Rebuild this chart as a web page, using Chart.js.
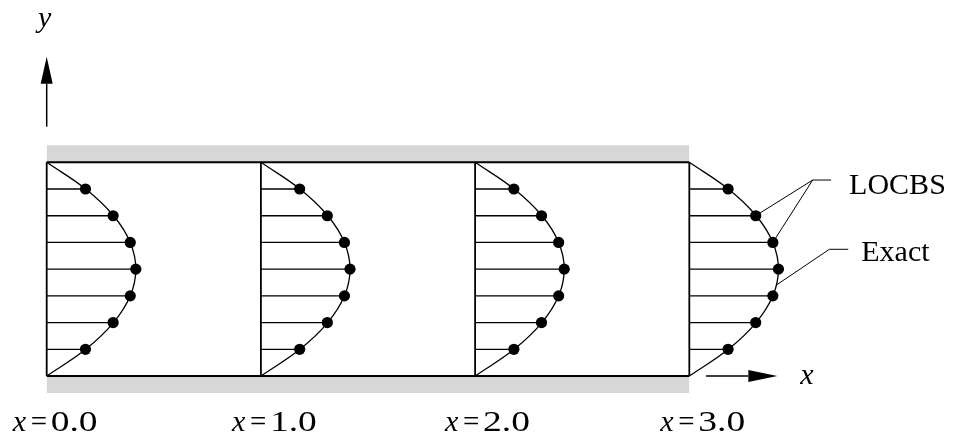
<!DOCTYPE html>
<html>
<head>
<meta charset="utf-8">
<script src="https://cdn.jsdelivr.net/npm/chart.js@4.4.1/dist/chart.umd.min.js"></script>
<style>
  html, body { margin: 0; padding: 0; background: #ffffff; overflow: hidden; }
  canvas { display: block; }
</style>
</head>
<body>
<canvas id="chart" width="956" height="437"></canvas>
<script>
// Profile stations along the channel and their captions
const stations = [0, 1, 2, 3];
const stationLabels = ['0.0', '1.0', '2.0', '3.0'];

// Wall-normal positions of the LOCBS nodes and the computed velocities there
const nodeY = [0.125, 0.25, 0.375, 0.5, 0.625, 0.75, 0.875];
const locbsU = [0.181, 0.310, 0.390, 0.416, 0.390, 0.310, 0.181];

// Exact (parabolic) profile, wall to wall
const exactY = [0, 0.125, 0.25, 0.375, 0.5, 0.625, 0.75, 0.875, 1];
const exactU = [0, 0.182, 0.312, 0.390, 0.416, 0.390, 0.312, 0.182, 0];

const seriesNames = ['LOCBS', 'Exact'];

// ---- datasets -------------------------------------------------------------
const WALL_BAND = 0.08;        // thickness of the shaded wall strips
const channelEnd = stations[stations.length - 1];
const datasets = [];

// LOCBS nodal values (drawn on top)
datasets.push({
  label: seriesNames[0],
  data: stations.flatMap(s => nodeY.map((y, i) => ({ x: s + locbsU[i], y }))),
  showLine: false,
  pointRadius: 5.6,
  pointBackgroundColor: '#000',
  pointBorderWidth: 0
});

// exact profiles
stations.forEach(s => datasets.push({
  label: seriesNames[1],
  data: exactY.map((y, i) => ({ x: s + exactU[i], y })),
  tension: 0.4,
  borderColor: '#000',
  borderWidth: 1.3,
  pointRadius: 0
}));

// velocity vectors from the inflow line of each station to the node
stations.forEach(s => {
  const d = [];
  nodeY.forEach((y, i) => { d.push({ x: s, y }, { x: s + locbsU[i], y }, { x: s, y: null }); });
  datasets.push({ data: d, spanGaps: false, borderColor: '#000', borderWidth: 1.3, pointRadius: 0 });
});

// channel walls and station lines
datasets.push({ data: [{ x: 0, y: 1 }, { x: channelEnd, y: 1 }], borderColor: '#000', borderWidth: 2, pointRadius: 0 });
datasets.push({ data: [{ x: 0, y: 0 }, { x: channelEnd, y: 0 }], borderColor: '#000', borderWidth: 2, pointRadius: 0 });
stations.forEach(s => datasets.push({
  data: [{ x: s, y: 0 }, { x: s, y: 1 }], borderColor: '#000', borderWidth: 1.8, pointRadius: 0
}));

// shaded walls
datasets.push({
  data: [{ x: 0, y: 1 + WALL_BAND }, { x: channelEnd, y: 1 + WALL_BAND }],
  fill: { value: 1 }, backgroundColor: '#d7d7d7', borderWidth: 0, pointRadius: 0
});
datasets.push({
  data: [{ x: 0, y: -WALL_BAND }, { x: channelEnd, y: -WALL_BAND }],
  fill: { value: 0 }, backgroundColor: '#d7d7d7', borderWidth: 0, pointRadius: 0
});

// ---- annotations: axis arrows, leaders, captions --------------------------
function arrow(ctx, x0, y0, x1, y1, headLen, halfW) {
  const a = Math.atan2(y1 - y0, x1 - x0);
  const bx = x1 - headLen * Math.cos(a), by = y1 - headLen * Math.sin(a);
  ctx.lineWidth = 1.5;
  ctx.beginPath(); ctx.moveTo(x0, y0); ctx.lineTo(bx, by); ctx.stroke();
  ctx.beginPath();
  ctx.moveTo(x1, y1);
  ctx.lineTo(bx - halfW * Math.sin(a), by + halfW * Math.cos(a));
  ctx.lineTo(bx + halfW * Math.sin(a), by - halfW * Math.cos(a));
  ctx.closePath(); ctx.fill();
}

const SERIF = '"Liberation Serif", "Times New Roman", serif';

const annotations = {
  id: 'annotations',
  afterDatasetsDraw(chart) {
    const { ctx } = chart;
    const xs = chart.scales.x, ys = chart.scales.y;
    const X = v => xs.getPixelForValue(v), Y = v => ys.getPixelForValue(v);
    ctx.save();
    ctx.strokeStyle = '#000';
    ctx.fillStyle = '#000';

    // coordinate arrows
    arrow(ctx, X(0), Y(1.167), X(0), Y(1.494), 27, 6);
    arrow(ctx, X(3.078), Y(0), X(3.411), Y(0), 29, 6);

    ctx.textBaseline = 'alphabetic';
    ctx.font = 'italic 30px ' + SERIF;
    ctx.textAlign = 'center';
    ctx.fillText('y', X(0) - 2, 27);
    ctx.textAlign = 'left';
    ctx.fillText('x', X(3.411) + 23, 384);

    // leader lines
    ctx.lineWidth = 1;
    const last = stations[stations.length - 1];
    const kL = { x: X(3.576), y: Y(0.917) };
    ctx.beginPath();
    ctx.moveTo(X(3.662), kL.y); ctx.lineTo(kL.x, kL.y);
    ctx.lineTo(X(last + locbsU[5]), Y(nodeY[5]));
    ctx.moveTo(kL.x, kL.y);
    ctx.lineTo(X(last + locbsU[4]), Y(nodeY[4]));
    const kE = { x: X(3.654), y: Y(0.593) };
    ctx.moveTo(X(3.742), kE.y); ctx.lineTo(kE.x, kE.y);
    ctx.lineTo(X(last + 0.407), Y(0.426));
    ctx.stroke();

    ctx.font = '30px ' + SERIF;
    ctx.fillText(seriesNames[0], X(3.662) + 18, 194);
    ctx.fillText(seriesNames[1], X(3.742) + 13, 261);

    // station captions  x = ...
    const offsets = [-33, -28, -29, -28];
    stations.forEach((s, i) => {
      const left = X(s) + offsets[i];
      const base = 431;
      ctx.font = 'italic 30px ' + SERIF;
      ctx.fillText('x', left - 1, base);
      ctx.font = '29px ' + SERIF;
      ctx.fillText('=', left + 17, base);
      ctx.save();
      ctx.translate(left + 37, base);
      ctx.scale(1.25, 1);
      ctx.font = '30px ' + SERIF;
      ctx.fillText(stationLabels[i], 0, 0);
      ctx.restore();
    });
    ctx.restore();
  }
};

new Chart(document.getElementById('chart'), {
  type: 'line',
  data: { datasets },
  options: {
    responsive: false,
    animation: false,
    devicePixelRatio: 1,
    layout: { padding: 0, autoPadding: false },
    events: [],
    plugins: { legend: { display: false }, tooltip: { enabled: false } },
    scales: {
      x: { type: 'linear', display: false, min: -0.218, max: 4.245 },
      y: { type: 'linear', display: false, min: -0.2854, max: 1.7595 }
    }
  },
  plugins: [annotations]
});
</script>
</body>
</html>
